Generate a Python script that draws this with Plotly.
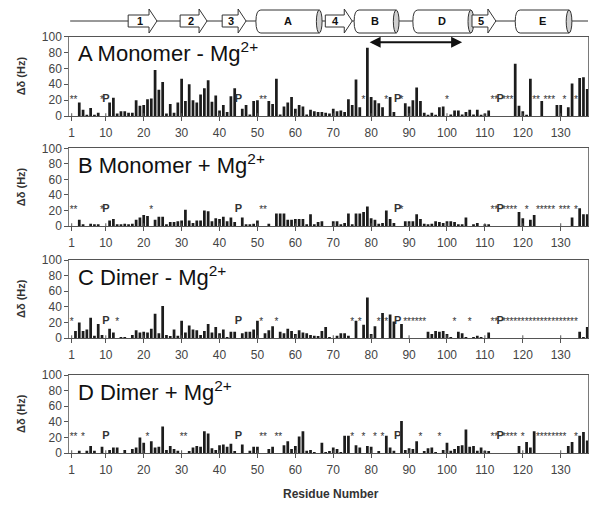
import plotly.graph_objects as go

residues = list(range(1, 138))
x_tick_vals = [1, 10, 20, 30, 40, 50, 60, 70, 80, 90, 100, 110, 120, 130]
y_tick_vals = [0, 20, 40, 60, 80, 100]

panel_titles = ["A Monomer - Mg<sup>2+</sup>", "B Monomer + Mg<sup>2+</sup>",
                "C Dimer - Mg<sup>2+</sup>", "D Dimer + Mg<sup>2+</sup>"]

# values per residue 1..137; "*" = unassigned, "P" = proline
A_vals = ["*", "*", 17, 8, 1, 10, 1, 4, "*", "P", 17, 23, 3, 6, 6, 4, 4, 20, 13, 14,
          21, 22, 58, 33, 43, 3, 15, 4, 17, 47, 19, 40, 20, 17, 27, 35, 45, 18, 26, 7,
          14, 5, 25, 35, "P", 9, 14, 2, 19, 20, "*", "*", 19, 15, 47, 2, 12, 17, 24, 9,
          14, 12, 2, 8, 6, 5, 5, 4, 3, 9, 6, 7, 5, 21, 14, 46, 11, "*", 86, 24,
          20, 16, 11, "*", 24, 5, "P", "*", 16, 12, 20, 36, 19, 4, 1, 4, 1, 11, 12, "*",
          2, 7, 7, 2, 5, 8, 2, 8, 1, 3, 7, "*", "*", "P", "*", "*", "*", 66, 13, 6,
          1, 47, "*", "*", 19, "*", "*", "*", 14, 14, "*", 11, 41, "*", 48, 49, 34]
B_vals = ["*", "*", 8, 1, 0, 3, 1, 1, "*", "P", 7, 9, 2, 2, 3, 2, 3, 8, 11, 14,
          13, "*", 8, 12, 12, 2, 5, 5, 6, 7, 21, 7, 4, 7, 7, 20, 19, 6, 10, 9,
          12, 6, 11, 5, "P", 11, 2, 2, 3, 7, "*", "*", 3, 0, 16, 16, 16, 8, 8, 9,
          9, 9, 2, 15, 2, 5, 6, 0, 0, 6, 6, 2, 4, 16, 1, 16, 16, 18, 25, 10,
          8, 3, 4, 20, 9, 4, "P", "*", 6, 6, 6, 15, 9, 3, 1, 3, 6, 5, 4, 6,
          6, 5, 2, 2, 11, 0, 1, 4, 0, 2, 2, "*", "*", "P", "*", "*", "*", "*", 18, 10,
          "*", 8, 14, "*", "*", "*", "*", "*", 0, "*", "*", "*", 11, "*", 23, 15, 15]
C_vals = ["*", 9, 20, 9, 11, 26, 3, 18, 4, "P", 12, 7, "*", 1, 1, 0, 4, 10, 7, 8,
          7, 12, 31, 6, 41, 4, 2, 11, 3, 22, 7, 16, 11, 10, 4, 9, 18, 7, 14, 6,
          11, 1, 8, 8, "P", 6, 8, 8, 11, 22, "*", 6, 10, 15, "*", 8, 6, 12, 9, 5,
          10, 7, 6, 4, 3, 2, 9, 14, 1, 0, 3, 6, 6, 3, "*", 22, "*", 17, 52, 5,
          15, "*", 32, "*", 30, 21, "P", 18, "*", "*", "*", "*", "*", "*", 8, 5, 9, 8, 9, 5,
          1, "*", 8, 6, 1, "*", 1, 3, 1, 0, 7, "*", "*", "P", "*", "*", "*", "*", "*", "*",
          "*", "*", "*", "*", "*", "*", "*", "*", "*", "*", "*", "*", "*", "*", 8, 1, 14]
D_vals = ["*", "*", 3, "*", 3, 9, 3, 0, 8, "P", 4, 7, 7, 0, 4, 0, 5, 7, 20, 13,
          "*", 15, 7, 8, 34, 4, 9, 5, 3, "*", "*", 2, 7, 9, 8, 28, 25, 6, 4, 10,
          11, 8, 12, 2, "P", 11, 0, 3, 8, 8, "*", "*", 5, 8, "*", "*", 10, 15, 5, 9,
          21, 28, 3, 4, 1, 0, 13, 1, 2, 7, 5, 1, 22, 22, "*", 10, 7, "*", 9, 8,
          "*", 2, "*", 22, 7, 3, "P", 41, 4, 6, 5, 15, "*", 2, 6, 7, 1, "*", 4, 13,
          3, 5, 9, 10, 30, 8, 9, 3, 7, 3, 2, "*", "*", "P", "*", "*", "*", "*", 9, "*",
          14, 7, 28, "*", "*", "*", "*", "*", "*", "*", "*", 9, 14, "*", 22, 27, 16]

# secondary structure elements: (label, kind, start residue, end residue)
ss_elements = [("1", "strand", 15.9, 23.5), ("2", "strand", 29.6, 36.7),
               ("3", "strand", 40.7, 47.0), ("A", "helix", 49.6, 66.3),
               ("4", "strand", 67.9, 75.0), ("B", "helix", 75.5, 86.6),
               ("D", "helix", 91.0, 106.3), ("5", "strand", 106.6, 112.9),
               ("E", "helix", 118.0, 132.2)]
ss_line = (0.6, 137.2)
arrow_span = (79.2, 104.0)

W, H = 600, 510
def py(px):
    return 1 - px / H

FONT = "Arial, Liberation Sans, sans-serif"
BAR_COLOR = "#1c1c1c"
AX_COLOR = "#7a7a7a"

x_dom = [69.3 / W, 588 / W]
panels_px = [(36.7, 116), (148.3, 226), (260, 338), (375, 453)]
title_baseline = [60, 172, 284, 399]
all_vals = [A_vals, B_vals, C_vals, D_vals]

fig = go.Figure()
layout = dict(template="none", width=W, height=H, autosize=False,
              margin=dict(l=0, r=0, t=0, b=0, pad=0),
              paper_bgcolor="white", plot_bgcolor="white", showlegend=False,
              bargap=0.3, font=dict(family=FONT, color="#333"))
annotations = []
shapes = []

for i, vals in enumerate(all_vals):
    sfx = "" if i == 0 else str(i + 1)
    xa, ya = "x" + sfx, "y" + sfx
    top_px, bot_px = panels_px[i]
    bx = [r for r, v in zip(residues, vals) if not isinstance(v, str)]
    by = [v for v in vals if not isinstance(v, str)]
    fig.add_trace(go.Bar(x=bx, y=by, xaxis=xa, yaxis=ya, width=0.72,
                         marker=dict(color=BAR_COLOR, line=dict(width=0))))
    sx = [r for r, v in zip(residues, vals) if v == "*"]
    fig.add_trace(go.Scatter(x=sx, y=[20] * len(sx), mode="text", text=["*"] * len(sx),
                             textfont=dict(family=FONT, size=10, color="#333333"),
                             xaxis=xa, yaxis=ya, cliponaxis=False, hoverinfo="skip"))
    pxs = [r for r, v in zip(residues, vals) if v == "P"]
    fig.add_trace(go.Scatter(x=pxs, y=[21] * len(pxs), mode="text", text=["<b>P</b>"] * len(pxs),
                             textfont=dict(family=FONT, size=11, color="#333333"),
                             xaxis=xa, yaxis=ya, cliponaxis=False, hoverinfo="skip"))
    layout["xaxis" + sfx] = dict(domain=x_dom, anchor=ya, range=[0.37, 137.2],
                                 tickvals=x_tick_vals, ticks="outside", ticklen=4,
                                 tickcolor="#555", showline=True, linecolor="#555",
                                 linewidth=1, mirror=True, showgrid=False, zeroline=False,
                                 automargin=False,
                                 tickfont=dict(size=12, color="#444"), ticklabelstandoff=2)
    layout["yaxis" + sfx] = dict(domain=[py(bot_px), py(top_px)], anchor=xa, range=[0, 100],
                                 tickvals=y_tick_vals, ticks="outside", ticklen=4,
                                 tickcolor="#555", showline=True, linecolor=AX_COLOR,
                                 linewidth=1, mirror=True, showgrid=False, zeroline=False,
                                 automargin=False,
                                 tickfont=dict(size=12, color="#444"))
    # inside half of the crossing x ticks
    for t in x_tick_vals:
        shapes.append(dict(type="line", xref=xa, yref=ya, x0=t, x1=t, y0=0, y1=3.5,
                           line=dict(color="#555", width=1)))
    annotations.append(dict(text=panel_titles[i], xref="paper", yref="paper",
                            x=76 / W, y=py(title_baseline[i] - 8), xanchor="left",
                            yanchor="middle", showarrow=False,
                            font=dict(family=FONT, size=22, color="#111")))
    annotations.append(dict(text="<b>Δδ (Hz)</b>", xref="paper", yref="paper",
                            x=21 / W, y=py((top_px + bot_px) / 2), textangle=-90,
                            xanchor="center", yanchor="middle",
                            showarrow=False, font=dict(family=FONT, size=11, color="#333")))

annotations.append(dict(text="<b>Residue Number</b>", xref="paper", yref="paper",
                        x=331 / W, y=py(494), xanchor="center", yanchor="middle",
                        showarrow=False, font=dict(family=FONT, size=12, color="#333")))

# double-headed arrow in panel A
annotations.append(dict(text="", x=arrow_span[1], y=93, ax=arrow_span[0], ay=93,
                        xref="x", yref="y", axref="x", ayref="y", showarrow=True,
                        arrowhead=2, startarrowhead=2, arrowside="end+start",
                        arrowwidth=2.2, arrowsize=1, startarrowsize=1, arrowcolor="#111"))

# secondary structure diagram
line_y = py(21)
shapes.append(dict(type="line", xref="x", yref="paper", x0=ss_line[0], x1=ss_line[1],
                   y0=line_y, y1=line_y, line=dict(color="#333", width=1), layer="below"))
for lab, kind, s, e in ss_elements:
    if kind == "strand":
        head = 2.1
        bt, bb = py(15), py(27)
        ht, hb = py(9), py(33)
        path = (f"M {s},{bt} L {e-head},{bt} L {e-head},{ht} L {e},{line_y} "
                f"L {e-head},{hb} L {e-head},{bb} L {s},{bb} Z")
        shapes.append(dict(type="path", xref="x", yref="paper", path=path,
                           fillcolor="white", line=dict(color="#333", width=1)))
        cx = (s + e - head) / 2 + 0.3
    else:
        r = 1.3
        tt, tb = py(10), py(33)
        mid = (tt + tb) / 2
        path = (f"M {s+r},{tt} L {e},{tt} L {e},{tb} L {s+r},{tb} "
                f"Q {s},{tb} {s},{mid} Q {s},{tt} {s+r},{tt} Z")
        shapes.append(dict(type="path", xref="x", yref="paper", path=path,
                           fillcolor="white", line=dict(color="#333", width=1)))
        shapes.append(dict(type="circle", xref="x", yref="paper", x0=e - 0.75, x1=e + 0.75,
                           y0=tb, y1=tt, fillcolor="#cfcfcf", line=dict(color="#333", width=1)))
        cx = (s + e) / 2
    annotations.append(dict(text=f"<b>{lab}</b>", x=cx, y=line_y, xref="x", yref="paper",
                            xanchor="center", yanchor="middle",
                            showarrow=False, font=dict(family=FONT, size=11, color="#111")))

layout["annotations"] = annotations
layout["shapes"] = shapes
fig.update_layout(**layout)
fig.write_html("out.html", config={"displayModeBar": False},
               post_script="document.body.style.margin='0px';")
